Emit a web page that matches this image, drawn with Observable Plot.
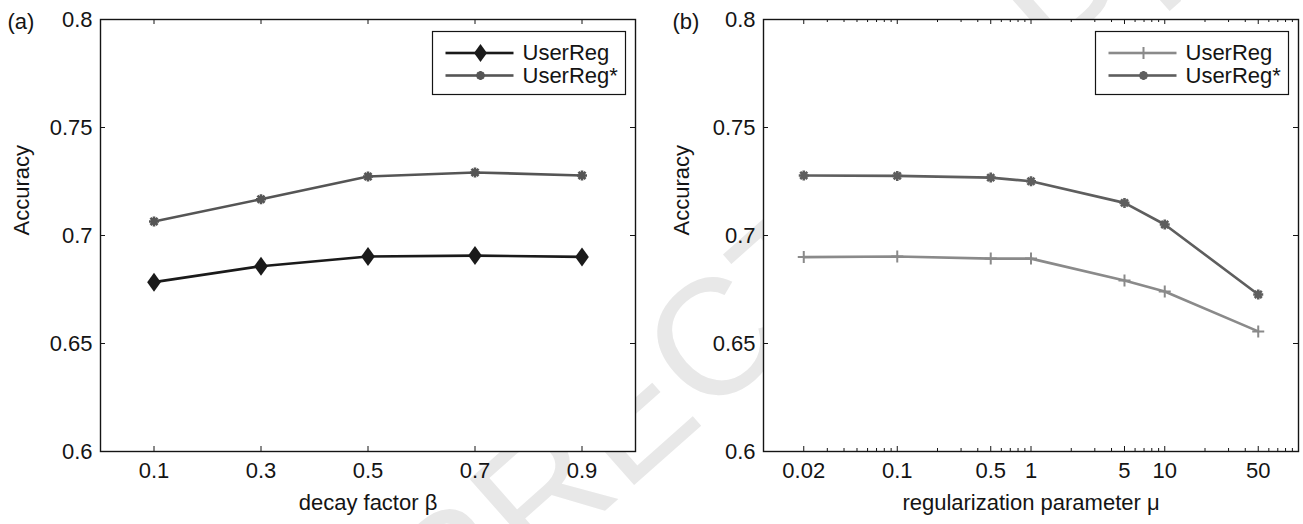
<!DOCTYPE html>
<html>
<head>
<meta charset="utf-8">
<script src="https://cdn.jsdelivr.net/npm/d3@7"></script>
<script src="https://cdn.jsdelivr.net/npm/@observablehq/plot@0.6"></script>
<style>
  html, body { margin: 0; padding: 0; background: #fff; }
  #wrap { position: relative; width: 1303px; height: 524px; background: #fff; overflow: hidden; }
  #wrap > * { position: absolute; top: 0; }
</style>
</head>
<body>
<div id="wrap"></div>
<script>
// ---------- data ----------
const betaValues = [0.1, 0.3, 0.5, 0.7, 0.9];
const userRegA = [0.6784, 0.6858, 0.6903, 0.6907, 0.6901];
const userRegStarA = [0.7065, 0.7168, 0.7273, 0.7292, 0.7278];

const muValues = [0.02, 0.1, 0.5, 1, 5, 10, 50];
const userRegB = [0.6900, 0.6903, 0.6893, 0.6893, 0.6792, 0.6741, 0.6556];
const userRegStarB = [0.7278, 0.7276, 0.7268, 0.7251, 0.7151, 0.7051, 0.6727];

const yTicks = [0.6, 0.65, 0.7, 0.75, 0.8];
const xTicksA = [0.1, 0.3, 0.5, 0.7, 0.9];
const xTicksB = [0.02, 0.1, 0.5, 1, 5, 10, 50];
const minorTicksB = [0.03,0.04,0.05,0.06,0.07,0.08,0.09,0.2,0.3,0.4,0.6,0.7,0.8,0.9,2,3,4,6,7,8,9,20,30,40,60,70,80,90];
const seriesNames = ["UserReg", "UserReg*"];
const panelTags = ["(a)", "(b)"];
const xTitles = ["decay factor \u03b2", "regularization parameter \u03bc"];
const yTitle = "Accuracy";
const watermarkText = "UNCORRECTED PROOF";

// ---------- symbols ----------
const diamondSym = { draw(ctx, size) { const r = Math.sqrt(size / Math.PI);
  ctx.moveTo(0, -r); ctx.lineTo(0.72 * r, 0); ctx.lineTo(0, r); ctx.lineTo(-0.72 * r, 0); ctx.closePath(); } };
const starSym = { draw(ctx, size) { const r = Math.sqrt(size / Math.PI), d = r * 0.7071;
  ctx.moveTo(-r, 0); ctx.lineTo(r, 0); ctx.moveTo(0, -r); ctx.lineTo(0, r);
  ctx.moveTo(-d, -d); ctx.lineTo(d, d); ctx.moveTo(-d, d); ctx.lineTo(d, -d); } };
const plusSym = { draw(ctx, size) { const r = Math.sqrt(size / Math.PI);
  ctx.moveTo(-r, 0); ctx.lineTo(r, 0); ctx.moveTo(0, -r); ctx.lineTo(0, r); } };

const FONT = "'Liberation Sans', Arial, Helvetica, sans-serif";
const FS = 22;
const INK = "#141414";
const HEIGHT = 524, MT = 19, MB = 73;
const FH = HEIGHT - MT - MB;

function seriesMarks(xs, ys, spec) {
  const data = xs.map((x, i) => ({x, y: ys[i]}));
  const dotOpts = spec.filled
    ? {symbol: spec.symbol, r: spec.r, fill: spec.color, stroke: "none"}
    : {symbol: spec.symbol, r: spec.r, fill: "none", stroke: spec.color, strokeWidth: spec.sw};
  return {
    marks: [
      Plot.line(data, {x: "x", y: "y", stroke: spec.color, strokeWidth: 2.6}),
      Plot.dot(data, {x: "x", y: "y", ...dotOpts})
    ],
    dotOpts
  };
}

function panel(cfg) {
  const FW = cfg.width - cfg.marginLeft - cfg.marginRight;
  const marks = [];
  // white axes background (hides the watermark inside the plot area)
  marks.push(Plot.frame({fill: "white", stroke: "none"}));
  // ticks (inward, all four sides)
  marks.push(Plot.ruleX(cfg.xTicks, {x: d => d, insetTop: FH - 5, stroke: INK, strokeWidth: 1}));
  marks.push(Plot.ruleX(cfg.xTicks, {x: d => d, insetBottom: FH - 5, stroke: INK, strokeWidth: 1}));
  if (cfg.minor) {
    marks.push(Plot.ruleX(cfg.minor, {x: d => d, insetTop: FH - 3, stroke: INK, strokeWidth: 1}));
    marks.push(Plot.ruleX(cfg.minor, {x: d => d, insetBottom: FH - 3, stroke: INK, strokeWidth: 1}));
  }
  marks.push(Plot.ruleY(yTicks, {y: d => d, insetRight: FW - 5, stroke: INK, strokeWidth: 1}));
  marks.push(Plot.ruleY(yTicks, {y: d => d, insetLeft: FW - 5, stroke: INK, strokeWidth: 1}));
  // tick labels
  marks.push(Plot.text(cfg.xTicks, {x: d => d, text: d => String(d), frameAnchor: "bottom", dy: 19, lineAnchor: "middle", fontSize: FS, fill: INK}));
  marks.push(Plot.axisY({ticks: yTicks, tickSize: 0, tickPadding: 8, tickFormat: d => String(d), fontSize: FS, label: null, fill: INK}));
  // titles
  marks.push(Plot.text([cfg.xTitle], {frameAnchor: "bottom", dy: 51, fontSize: FS, fill: INK, lineAnchor: "middle"}));
  marks.push(Plot.text([yTitle], {frameAnchor: "left", dx: cfg.accDx, rotate: -90, fontSize: FS, fill: INK, lineAnchor: "middle"}));
  marks.push(Plot.text([cfg.tag], {frameAnchor: "top-left", dx: cfg.tagDx, dy: 2, textAnchor: "start", lineAnchor: "middle", fontSize: FS, fill: INK}));
  // series
  const legendDots = [];
  cfg.series.forEach(s => {
    const {marks: m, dotOpts} = seriesMarks(cfg.xs, s.ys, s);
    marks.push(...m);
    legendDots.push(dotOpts);
  });
  // border
  marks.push(Plot.frame({stroke: INK, strokeWidth: 1.4}));
  // legend box
  marks.push(Plot.frame({insetLeft: 332, insetRight: FW - 525, insetTop: 12, insetBottom: FH - 75, fill: "white", stroke: INK, strokeWidth: 1.2}));
  const rows = [33.5, 56];
  cfg.series.forEach((s, i) => {
    const ry = rows[i];
    marks.push(Plot.frame({insetLeft: 345, insetRight: FW - 413, insetTop: ry - 1.3, insetBottom: FH - ry - 1.3, fill: s.color, stroke: "none"}));
    marks.push(Plot.dot([0], {frameAnchor: "top-left", dx: 380, dy: ry, ...legendDots[i], r: s.legendR || s.r}));
    marks.push(Plot.text([seriesNames[i]], {frameAnchor: "top-left", dx: 422, dy: ry, textAnchor: "start", lineAnchor: "middle", fontSize: FS, fill: INK}));
  });
  return Plot.plot({
    width: cfg.width, height: HEIGHT,
    marginLeft: cfg.marginLeft, marginRight: cfg.marginRight, marginTop: MT, marginBottom: MB,
    style: {background: "transparent", fontFamily: FONT, fontSize: FS + "px", color: INK, overflow: "visible"},
    x: {type: cfg.xType, domain: cfg.xDomain, axis: null},
    y: {domain: [0.6, 0.8], axis: null},
    marks
  });
}

const wrap = document.getElementById("wrap");

// faint watermark layer (behind both panels)
const wm = d3.create("svg").attr("width", 1303).attr("height", 524).style("left", "0px");
wm.append("text")
  .attr("transform", "translate(799,339) rotate(-41.5)")
  .attr("text-anchor", "middle")
  .attr("font-family", FONT)
  .attr("font-size", 165)
  .attr("fill", "#e8e8e8")
  .text(watermarkText);
wrap.appendChild(wm.node());

const a = panel({
  width: 660, marginLeft: 100, marginRight: 25,
  xType: "linear", xDomain: [0, 1], xTicks: xTicksA, xs: betaValues,
  xTitle: xTitles[0], tag: panelTags[0], accDx: -79, tagDx: -93,
  series: [
    {ys: userRegA, color: "#1a1a1a", symbol: diamondSym, r: 9.5, filled: true, legendR: 9},
    {ys: userRegStarA, color: "#555555", symbol: starSym, r: 5, sw: 2.6, legendR: 4.5}
  ]
});
a.style.left = "0px";
wrap.appendChild(a);

const b = panel({
  width: 643, marginLeft: 103, marginRight: 5,
  xType: "log", xDomain: [0.01, 100], xTicks: xTicksB, minor: minorTicksB, xs: muValues,
  xTitle: xTitles[1], tag: panelTags[1], accDx: -82, tagDx: -91,
  series: [
    {ys: userRegB, color: "#8a8a8a", symbol: plusSym, r: 6, sw: 2, legendR: 6},
    {ys: userRegStarB, color: "#5e5e5e", symbol: starSym, r: 5, sw: 2.6, legendR: 4.5}
  ]
});
b.style.left = "660px";
wrap.appendChild(b);
</script>
</body>
</html>
